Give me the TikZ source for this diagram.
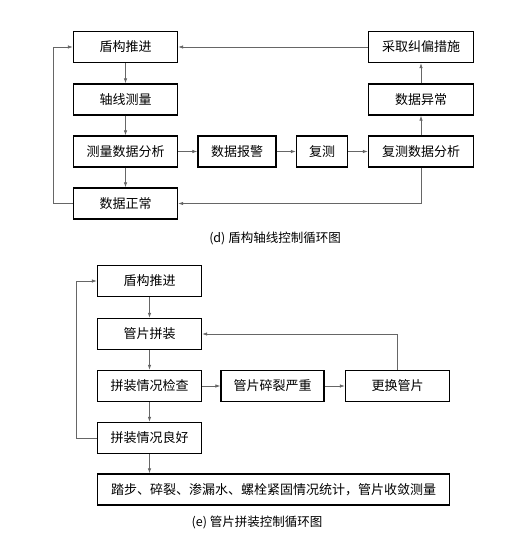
\documentclass[tikz,border=0pt]{standalone}
\usepackage{fontspec}
\setmainfont{Noto Sans CJK SC}
\usetikzlibrary{arrows.meta, calc}

\begin{document}
\begin{tikzpicture}[x=1pt, y=-1pt, font=\fontsize{13}{15}\selectfont]
    \tikzset{
        procbox/.style={rectangle, draw=black, line width=1.4pt, fill=white,
            minimum width=104pt, minimum height=31pt, inner sep=1pt,
            align=center},
        caption/.style={font=\fontsize{12.5}{14}\selectfont},
        flow/.style={draw=black!60, line width=0.7pt,
            -{Latex[length=5pt, width=3.5pt]}}
    }
    \useasboundingbox (0,0) rectangle (531,540);
    \node[procbox] (push1) at (125.5,47) {盾构推进};
    \node[procbox] (axis) at (125.5,99.5) {轴线测量};
    \node[procbox] (analyse) at (125.5,151.5) {测量数据分析};
    \node[procbox] (normal) at (125.5,203.5) {数据正常};
    \node[procbox, minimum width=78pt] (alarm) at (237,151.5) {数据报警};
    \node[procbox, minimum width=51pt] (remeasure) at (322,151.5) {复测};
    \node[procbox, minimum width=105pt] (reanalyse) at (421,151.5) {复测数据分析};
    \node[procbox, minimum width=105pt] (abnormal) at (421,99.5) {数据异常};
    \node[procbox, minimum width=105pt] (correct) at (421,47) {采取纠偏措施};
    \node[caption] (capd) at (275,238) {(d) 盾构轴线控制循环图};
    \draw[flow] (push1) -- (axis);
    \draw[flow] (axis) -- (analyse);
    \draw[flow] (analyse) -- (normal);
    \draw[flow] (analyse) -- (alarm);
    \draw[flow] (alarm) -- (remeasure);
    \draw[flow] (remeasure) -- (reanalyse);
    \draw[flow] (reanalyse) -- (abnormal);
    \draw[flow] (abnormal) -- (correct);
    \draw[flow] (correct) -- (push1);
    \draw[flow] (reanalyse.south) |- (normal.east);
    \draw[flow] (normal.west) -- ++(-19,0) |- (push1.west);
    \node[procbox] (push2) at (149.5,281) {盾构推进};
    \node[procbox] (assemble) at (149.5,334) {管片拼装};
    \node[procbox] (check) at (149.5,386) {拼装情况检查};
    \node[procbox] (good) at (149.5,438) {拼装情况良好};
    \node[procbox, minimum width=103pt] (broken) at (272.5,386) {管片碎裂严重};
    \node[procbox] (replace) at (397.5,386) {更换管片};
    \node[procbox, minimum width=352pt] (stats) at (273.5,489.5)
        {踏步、碎裂、渗漏水、螺栓紧固情况统计，管片收敛测量};
    \node[caption] (cape) at (257,522) {(e) 管片拼装控制循环图};
    \draw[flow] (push2) -- (assemble);
    \draw[flow] (assemble) -- (check);
    \draw[flow] (check) -- (good);
    \draw[flow] (check) -- (broken);
    \draw[flow] (broken) -- (replace);
    \draw[flow] (replace.north) |- (assemble.east);
    \draw[flow] (good.west) -- ++(-20,0) |- (push2.west);
    \draw[flow] (good.south) -- (good.south |- stats.north);
\end{tikzpicture}
\end{document}
